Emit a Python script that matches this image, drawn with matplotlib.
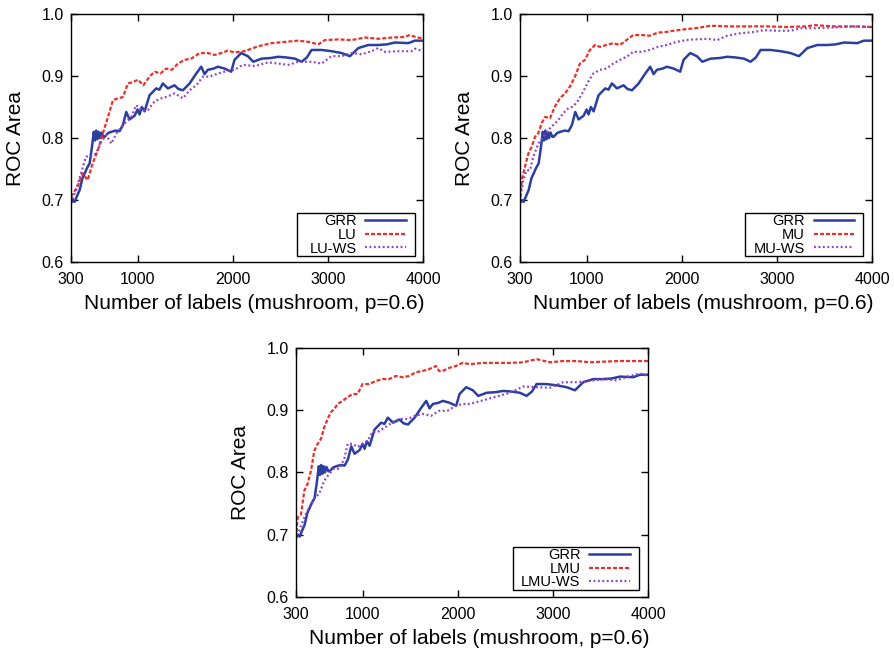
import matplotlib
matplotlib.use('Agg')
import matplotlib.pyplot as plt
from matplotlib.patches import Rectangle

plt.rcParams.update({
    'font.family': ['Liberation Sans', 'DejaVu Sans'],
    'axes.linewidth': 1.0,
})

# GRR baseline (same curve in all three panels)
grr_x = [300, 320, 338, 360, 391, 420, 444, 470, 496, 520, 540, 552, 565, 578, 590, 605, 620, 640,
         654, 690, 724, 770, 811, 846, 881, 916, 969, 1000, 1021, 1045, 1074, 1100, 1126, 1196, 1230,
         1266, 1319, 1389, 1430, 1477, 1547, 1617, 1669, 1704, 1739, 1800, 1844, 1914, 1984, 2019,
         2089, 2159, 2216, 2304, 2400, 2479, 2560, 2654, 2724, 2780, 2829, 2934, 3039, 3144, 3232,
         3320, 3425, 3530, 3620, 3705, 3845, 3915, 4000]
grr_y = [0.695, 0.700, 0.697, 0.705, 0.716, 0.735, 0.743, 0.752, 0.759, 0.785, 0.810, 0.796, 0.812,
         0.798, 0.810, 0.800, 0.809, 0.802, 0.802, 0.808, 0.810, 0.812, 0.811, 0.821, 0.842, 0.830,
         0.836, 0.846, 0.838, 0.850, 0.843, 0.856, 0.869, 0.880, 0.878, 0.888, 0.880, 0.885, 0.879,
         0.877, 0.888, 0.904, 0.915, 0.903, 0.910, 0.912, 0.915, 0.912, 0.907, 0.926, 0.937, 0.932,
         0.923, 0.928, 0.929, 0.931, 0.930, 0.928, 0.923, 0.930, 0.942, 0.942, 0.940, 0.937, 0.932,
         0.945, 0.950, 0.950, 0.951, 0.954, 0.953, 0.957, 0.957]

# Panel 1: LU, LU-WS
lu_x = [300, 340, 370, 400, 423, 475, 528, 584, 636, 689, 741, 794, 846, 899, 950, 1004, 1060, 1126,
        1179, 1240, 1301, 1360, 1424, 1494, 1564, 1652, 1739, 1809, 1880, 1949, 2019, 2124, 2269,
        2409, 2549, 2689, 2800, 2899, 2969, 3109, 3250, 3390, 3530, 3670, 3810, 3860, 3940, 4000]
lu_y = [0.705, 0.715, 0.722, 0.735, 0.743, 0.732, 0.759, 0.781, 0.808, 0.834, 0.861, 0.864, 0.866,
        0.888, 0.890, 0.894, 0.885, 0.899, 0.907, 0.904, 0.912, 0.910, 0.920, 0.926, 0.928, 0.937,
        0.937, 0.934, 0.937, 0.941, 0.938, 0.940, 0.948, 0.953, 0.955, 0.957, 0.955, 0.951, 0.958,
        0.959, 0.958, 0.962, 0.960, 0.962, 0.963, 0.966, 0.962, 0.961]
luws_x = [300, 353, 405, 458, 510, 563, 619, 671, 724, 776, 829, 881, 934, 986, 1039, 1109, 1179,
          1249, 1319, 1389, 1477, 1547, 1617, 1687, 1757, 1844, 1914, 2019, 2106, 2234, 2374, 2584,
          2689, 2829, 2934, 3039, 3144, 3250, 3355, 3460, 3530, 3600, 3740, 3880, 3915, 4000]
luws_y = [0.695, 0.716, 0.743, 0.770, 0.770, 0.775, 0.794, 0.805, 0.791, 0.807, 0.818, 0.826, 0.834,
          0.853, 0.845, 0.845, 0.859, 0.864, 0.867, 0.872, 0.864, 0.877, 0.885, 0.899, 0.899, 0.904,
          0.907, 0.910, 0.918, 0.916, 0.922, 0.918, 0.923, 0.923, 0.920, 0.932, 0.932, 0.937, 0.935,
          0.940, 0.945, 0.939, 0.940, 0.940, 0.944, 0.940]

# Panel 2: MU, MU-WS
mu_x = [300, 318, 353, 388, 423, 458, 493, 528, 563, 615, 668, 720, 773, 825, 878, 930, 983, 1035,
        1088, 1140, 1210, 1280, 1350, 1420, 1490, 1580, 1665, 1750, 1840, 1910, 2016, 2139, 2304,
        2500, 2700, 2900, 3100, 3300, 3400, 3600, 3800, 4000]
mu_y = [0.695, 0.732, 0.754, 0.775, 0.786, 0.802, 0.808, 0.824, 0.834, 0.832, 0.851, 0.864, 0.872,
        0.883, 0.899, 0.920, 0.926, 0.942, 0.950, 0.947, 0.950, 0.953, 0.950, 0.958, 0.966, 0.966,
        0.965, 0.970, 0.971, 0.973, 0.975, 0.977, 0.981, 0.980, 0.980, 0.980, 0.979, 0.980, 0.982,
        0.980, 0.980, 0.979]
muws_x = [300, 335, 370, 405, 440, 493, 545, 598, 650, 703, 755, 808, 860, 913, 965, 1018, 1070,
          1140, 1210, 1280, 1350, 1420, 1490, 1580, 1665, 1750, 1840, 1946, 2051, 2129, 2269, 2374,
          2479, 2619, 2759, 2864, 3004, 3144, 3250, 3390, 3530, 3700, 3850, 4000]
muws_y = [0.700, 0.732, 0.748, 0.748, 0.770, 0.791, 0.802, 0.813, 0.821, 0.829, 0.840, 0.848, 0.851,
          0.861, 0.875, 0.891, 0.904, 0.910, 0.912, 0.920, 0.926, 0.931, 0.939, 0.939, 0.942, 0.947,
          0.950, 0.955, 0.958, 0.959, 0.960, 0.958, 0.965, 0.969, 0.971, 0.974, 0.973, 0.973, 0.977,
          0.977, 0.978, 0.979, 0.980, 0.979]

# Panel 3: LMU, LMU-WS
lmu_x = [300, 318, 353, 388, 423, 458, 493, 528, 563, 598, 633, 668, 703, 738, 790, 843, 895, 948,
         1000, 1070, 1140, 1210, 1280, 1350, 1420, 1490, 1560, 1630, 1700, 1770, 1805, 1840, 1910,
         1980, 2050, 2129, 2269, 2409, 2549, 2689, 2829, 2969, 3109, 3250, 3390, 3530, 3700, 4000]
lmu_y = [0.695, 0.728, 0.733, 0.771, 0.782, 0.803, 0.835, 0.846, 0.854, 0.873, 0.886, 0.897, 0.902,
         0.910, 0.915, 0.921, 0.926, 0.926, 0.942, 0.942, 0.947, 0.950, 0.950, 0.955, 0.953, 0.955,
         0.961, 0.963, 0.966, 0.971, 0.963, 0.963, 0.968, 0.971, 0.976, 0.974, 0.976, 0.976, 0.976,
         0.977, 0.982, 0.977, 0.979, 0.979, 0.977, 0.978, 0.979, 0.979]
lmuws_x = [300, 335, 388, 440, 493, 545, 598, 650, 703, 755, 808, 843, 895, 948, 1000, 1053, 1105,
           1158, 1210, 1263, 1315, 1385, 1472, 1550, 1630, 1720, 1805, 1890, 1980, 2050, 2129, 2269,
           2409, 2549, 2689, 2829, 2969, 3109, 3250, 3390, 3530, 3670, 3810, 3915, 4000]
lmuws_y = [0.700, 0.707, 0.728, 0.745, 0.758, 0.766, 0.787, 0.798, 0.806, 0.806, 0.822, 0.846, 0.846,
           0.841, 0.846, 0.851, 0.865, 0.865, 0.870, 0.875, 0.881, 0.886, 0.886, 0.891, 0.894, 0.891,
           0.899, 0.899, 0.907, 0.910, 0.910, 0.916, 0.922, 0.928, 0.938, 0.937, 0.936, 0.945, 0.945,
           0.947, 0.950, 0.948, 0.955, 0.959, 0.955]

panels = [
    ('LU', 'LU-WS', lu_x, lu_y, luws_x, luws_y),
    ('MU', 'MU-WS', mu_x, mu_y, muws_x, muws_y),
    ('LMU', 'LMU-WS', lmu_x, lmu_y, lmuws_x, lmuws_y),
]

xticks = [300, 1000, 2000, 3000, 4000]
yticks = [0.6, 0.7, 0.8, 0.9, 1.0]

c_grr = '#2b3f9e'
c_red = '#e8312a'
c_purple = '#8e44c8'

fig = plt.figure(figsize=(8.95, 6.51), dpi=100)
# axes rects (figure fraction) and legend frame boxes (axes fraction: x0, y0, x1, y1)
rects = [
    [0.0793, 0.5975, 0.3933, 0.381],
    [0.581, 0.5975, 0.3933, 0.381],
    [0.3307, 0.083, 0.3933, 0.3825],
]
leg_boxes = [
    (0.642, 0.024, 0.977, 0.198),
    (0.639, 0.024, 0.975, 0.198),
    (0.616, 0.028, 0.974, 0.201),
]

for rect, lbox, (name, ws_name, rx, ry, px, py) in zip(rects, leg_boxes, panels):
    ax = fig.add_axes(rect)
    ax.plot(grr_x, grr_y, color=c_grr, lw=1.8, label='GRR')
    ax.plot(rx, ry, color=c_red, lw=1.6, linestyle=(0, (1.8, 0.9)), label=name)
    ax.plot(px, py, color=c_purple, lw=1.6, linestyle=(0, (0.85, 1.15)), label=ws_name)

    ax.set_xlim(300, 4000)
    ax.set_ylim(0.6, 1.0)
    ax.set_xticks(xticks)
    ax.set_yticks(yticks)
    ax.set_yticklabels([f'{t:.1f}' for t in yticks])
    ax.tick_params(direction='in', top=True, right=True, length=5, width=1, labelsize=11.5)
    ax.tick_params(axis='x', pad=7)
    ax.tick_params(axis='y', pad=5)
    ax.set_xlabel('Number of labels (mushroom, p=0.6)', fontsize=15)
    ax.xaxis.set_label_coords(0.52, -0.128)
    ax.set_ylabel('ROC Area', fontsize=15, labelpad=12)

    # legend frame drawn by hand so the box matches the original proportions
    x0, y0, x1, y1 = lbox
    ax.add_patch(Rectangle((x0, y0), x1 - x0, y1 - y0, transform=ax.transAxes,
                           facecolor='white', edgecolor='black', lw=1.0, zorder=4))
    leg = ax.legend(loc='lower right', bbox_to_anchor=(x1 - 0.025, y0 + 0.002),
                    borderaxespad=0, borderpad=0, markerfirst=False, fontsize=10.5,
                    handlelength=2.8, labelspacing=-0.03, handletextpad=0.6, frameon=False)
    leg.set_zorder(5)

fig.savefig('out.png', dpi=100)
